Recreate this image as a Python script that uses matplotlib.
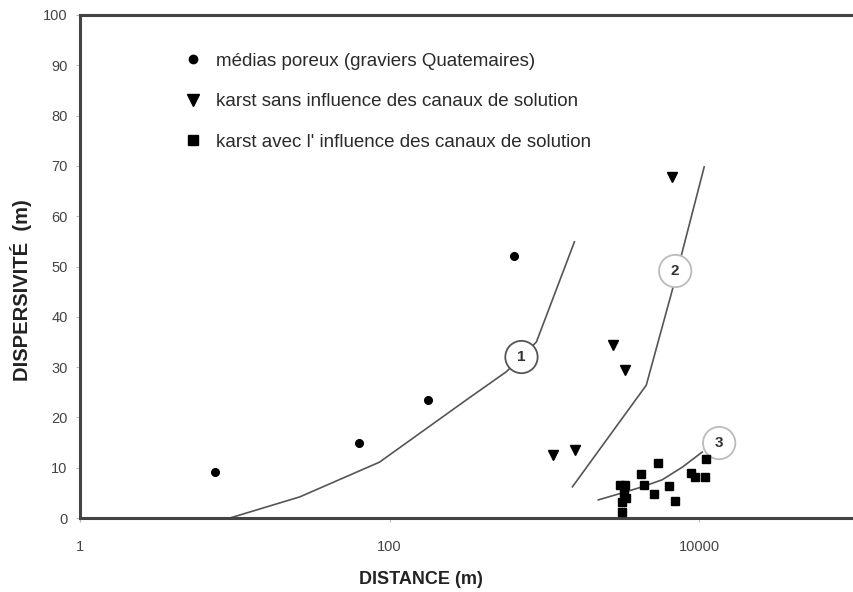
import matplotlib
matplotlib.use("Agg")
import matplotlib.pyplot as plt
from matplotlib.lines import Line2D

plt.rcParams['font.family'] = ['Liberation Sans', 'DejaVu Sans']

# --- data ---
poreux_x = [7.5, 63, 176, 640]
poreux_y = [9.1, 14.9, 23.5, 52.1]

karst_sans_x = [1143, 1585, 2790, 3330, 6700]
karst_sans_y = [12.5, 13.5, 34.4, 29.4, 67.8]

karst_avec_x = [3100, 3300, 3380, 3150, 3150, 3250, 4225, 4420, 5440, 5130, 6400, 7000, 8880, 9420, 10900, 11100]
karst_avec_y = [6.6, 6.6, 4.0, 3.2, 1.2, 5.0, 8.7, 6.6, 11.0, 4.8, 6.4, 3.4, 9.0, 8.2, 8.2, 11.7]

curve1_x = [9.3, 26.3, 86, 314, 569, 888, 1563]
curve1_y = [0, 4.2, 11.1, 23.5, 29.1, 35.0, 54.9]
curve2_x = [1517, 4550, 6700, 7770, 10770]
curve2_y = [6.2, 26.4, 45.3, 52.9, 69.8]
curve3_x = [2230, 3190, 4290, 5770, 7770, 10450]
curve3_y = [3.6, 5.0, 6.2, 7.6, 10.1, 13.1]

labels_txt = ["1", "2", "3"]
labels_x = [711, 7000, 13460]
labels_y = [32.0, 49.1, 14.9]

legend_labels = ["médias poreux (graviers Quatemaires)",
                 "karst sans influence des canaux de solution",
                 "karst avec l' influence des canaux de solution"]

xticks = [1, 100, 10000]
xtick_labels = ["1", "100", "10000"]
yticks = list(range(0, 101, 10))

# --- figure ---
fig = plt.figure(figsize=(8.54, 5.92), dpi=100)
ax = fig.add_axes([80/854, 1-518/592, 774/854, 503/592])
ax.set_xscale('log')
ax.set_xlim(1, 1e5)
ax.set_ylim(0, 100)

lc = '#555555'
ax.plot(curve1_x, curve1_y, color=lc, lw=1.2, zorder=2)
ax.plot(curve2_x, curve2_y, color=lc, lw=1.2, zorder=2)
ax.plot(curve3_x, curve3_y, color=lc, lw=1.2, zorder=2)

edgecols = ['#555555', '#bbbbbb', '#bbbbbb']
for t, x, y, ec in zip(labels_txt, labels_x, labels_y, edgecols):
    ax.annotate(t, (x, y), ha='center', va='center', fontsize=11, fontweight='bold',
                color='#333333', zorder=4,
                bbox=dict(boxstyle='circle,pad=0.6', fc='white', ec=ec, lw=1.3))

ax.plot(poreux_x, poreux_y, 'o', color='black', ms=5.5, ls='none', zorder=5)
ax.plot(karst_sans_x, karst_sans_y, 'v', color='black', ms=7, ls='none', zorder=5)
ax.plot(karst_avec_x, karst_avec_y, 's', color='black', ms=5.5, ls='none', zorder=5)

handles = [Line2D([], [], marker='o', color='black', ls='none', ms=6),
           Line2D([], [], marker='v', color='black', ls='none', ms=9),
           Line2D([], [], marker='s', color='black', ls='none', ms=7)]
leg = ax.legend(handles, legend_labels, loc='upper left', bbox_to_anchor=(0.124, 0.94),
                frameon=False, fontsize=13.5, labelspacing=1.25, handletextpad=0.75,
                handlelength=1.0, borderaxespad=0)
for t in leg.get_texts():
    t.set_color('#2a2a2a')

for s in ['left', 'bottom', 'top']:
    ax.spines[s].set_linewidth(2.2)
    ax.spines[s].set_color('#444444')
ax.spines['right'].set_visible(False)

ax.set_xticks(xticks)
ax.set_xticklabels(xtick_labels)
ax.xaxis.set_minor_locator(matplotlib.ticker.NullLocator())
ax.set_yticks(yticks)
ax.tick_params(axis='both', length=3, color='#bbbbbb', labelcolor='#444444', labelsize=10.5)
ax.tick_params(axis='x', pad=13)
ax.tick_params(axis='y', pad=6)

ax.set_xlabel('DISTANCE (m)', fontsize=13, fontweight='bold', color='#222222')
ax.xaxis.set_label_coords(0.44, -0.105)
ax.set_ylabel('DISPERSIVITÉ  (m)', fontsize=14.5, fontweight='bold', color='#222222')
ax.yaxis.set_label_coords(-0.062, 0.453)

fig.savefig('out.png', dpi=100)
